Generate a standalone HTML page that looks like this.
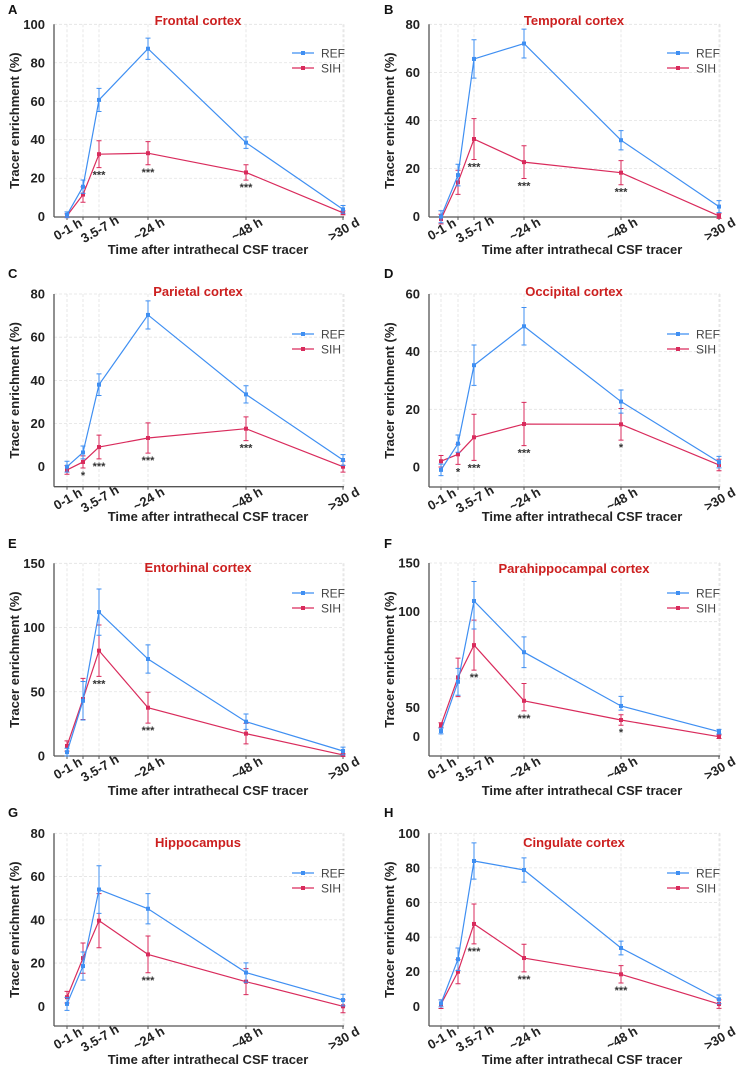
<!DOCTYPE html>
<html><head><meta charset="utf-8">
<style>
body{margin:0;background:#fff;}
svg{display:block;font-family:"Liberation Sans",Arial,sans-serif;}
</style></head>
<body>
<svg id="chart" width="744" height="1074" viewBox="0 0 744 1074" xmlns="http://www.w3.org/2000/svg"></svg>
<script>
const categories = ["0-1 h", "", "3.5-7 h", "~24 h", "~48 h", ">30 d"];
const seriesNames = ["REF", "SIH"];
const panelTitles = ["Frontal cortex","Temporal cortex","Parietal cortex","Occipital cortex","Entorhinal cortex","Parahippocampal cortex","Hippocampus","Cingulate cortex"];
const panelLetters = ["A","B","C","D","E","F","G","H"];

const refA = [1, 15.6, 60.7, 87.3, 38.5, 3.8];
const refErrA = [1.5, 3.5, 6, 5.5, 3, 2];
const sihA = [0.5, 11.5, 32.5, 33, 23, 2];
const sihErrA = [1, 4, 7, 6, 4, 1];
const starsA = ["", "", "***", "***", "***", ""];

const refB = [0, 17.3, 65.6, 72, 31.8, 4.2];
const refErrB = [2.5, 4.5, 8, 6, 4, 2.5];
const sihB = [-1, 14.3, 32.3, 22.7, 18.3, 0.3];
const sihErrB = [2, 5, 8.5, 6.8, 5, 1];
const starsB = ["", "", "***", "***", "***", ""];

const refC = [0, 6.6, 38, 70.3, 33.5, 3.1];
const refErrC = [2.5, 3, 5, 6.5, 4, 2.5];
const sihC = [-1.5, 2.2, 9.1, 13.3, 17.6, 0];
const sihErrC = [2, 2.8, 5.5, 7, 5.5, 2.5];
const starsC = ["", "*", "***", "***", "***", ""];

const refD = [-1, 8.1, 35.3, 48.8, 22.7, 1.7];
const refErrD = [2, 3, 7, 6.5, 4, 2];
const sihD = [2, 4.4, 10.3, 14.9, 14.8, 0.7];
const sihErrD = [2, 3.5, 8, 7.5, 5.5, 2];
const starsD = ["", "*", "***", "***", "*", ""];

const refE = [3, 43, 112, 75.5, 26.7, 3.9];
const refErrE = [3, 15, 18, 11, 6, 3];
const sihE = [7.8, 44.4, 82, 37.6, 17.4, 0.8];
const sihErrE = [4, 16, 20, 12, 8, 1];
const starsE = ["", "", "***", "***", "", ""];

const refF = [9.8, 63.5, 111, 78.9, 50.9, 8.6];
const refErrF = [5, 7, 20, 8, 5, 4];
const sihF = [20, 65.8, 82.6, 53.6, 28.8, 0];
const sihErrF = [4, 10, 13, 9, 9, 3];
const starsF = ["", "", "**", "***", "*", ""];

const refG = [1.1, 18.6, 54, 45.1, 15.6, 2.9];
const refErrG = [3, 6.5, 11, 7, 4.5, 2.7];
const sihG = [4.2, 22.3, 39.6, 24, 11.4, 0];
const sihErrG = [2.7, 7, 12.5, 8.5, 6, 3];
const starsG = ["", "", "", "***", "", ""];

const refH = [1.7, 27.2, 84, 78.8, 33.7, 4];
const refErrH = [2, 6.5, 10.5, 7, 4, 2.5];
const sihH = [1.2, 20, 47.6, 27.9, 18.5, 1.3];
const sihErrH = [2.5, 7, 11.5, 8, 5, 2.5];
const starsH = ["", "", "***", "***", "***", ""];

const yTicksA = [0,20,40,60,80,100];
const yTicksB = [0,20,40,60,80];
const yTicksC = [0,20,40,60,80];
const yTicksD = [0,20,40,60];
const yTicksE = [0,50,100,150];
const yTicksF = [0,50,100,150];
const yTicksG = [0,20,40,60,80];
const yTicksH = [0,20,40,60,80,100];

const allRef=[refA,refB,refC,refD,refE,refF,refG,refH];
const allRefErr=[refErrA,refErrB,refErrC,refErrD,refErrE,refErrF,refErrG,refErrH];
const allSih=[sihA,sihB,sihC,sihD,sihE,sihF,sihG,sihH];
const allSihErr=[sihErrA,sihErrB,sihErrC,sihErrD,sihErrE,sihErrF,sihErrG,sihErrH];
const allStars=[starsA,starsB,starsC,starsD,starsE,starsF,starsG,starsH];
const allTicks=[yTicksA,yTicksB,yTicksC,yTicksD,yTicksE,yTicksF,yTicksG,yTicksH];

const L = {x0:54, xs:[67,83,99,148,246,343], right:344};
const R = {x0:429, xs:[441,458,474,524,621,719], right:720};
const layouts = [
 {col:L, top:24.3, zero:216.7, max:100, bottom:217, letterY:14, titleY:25, legY:53, xTitleY:254},
 {col:R, top:24.3, zero:216.7, max:80, bottom:217, letterY:14, titleY:25, legY:53, xTitleY:254},
 {col:L, top:294, zero:466.7, max:80, bottom:486.7, letterY:278, titleY:296, legY:334, xTitleY:521},
 {col:R, top:294, zero:467, max:60, bottom:487, letterY:278, titleY:296, legY:334, xTitleY:521},
 {col:L, top:563.3, zero:756, max:150, bottom:756, letterY:548, titleY:572, legY:593, xTitleY:795},
 {col:R, top:563, zero:736.7, max:150, bottom:756, letterY:548, titleY:573, legY:593, xTitleY:795, piece:[[0,736.7],[50,707.7],[100,611.7],[150,563]], grid:[65,94.8,150]},
 {col:L, top:833.3, zero:1006.3, max:80, bottom:1026, letterY:817, titleY:847, legY:873, xTitleY:1064},
 {col:R, top:833.3, zero:1006.3, max:100, bottom:1026, letterY:817, titleY:847, legY:873, xTitleY:1064}
];
const COLORS = ["#3f8ff2", "#d92b5c"];
const svg = document.getElementById('chart');
const NS = "http://www.w3.org/2000/svg";
function mk(tag, attrs, parent){
  const e=document.createElementNS(NS,tag);
  for(const k in attrs) e.setAttribute(k, attrs[k]);
  (parent||svg).appendChild(e); return e;
}
function makeY(lay){
  if(lay.piece){
    const p=lay.piece;
    return v=>{
      for(let i=0;i<p.length-1;i++){
        if(v<=p[i+1][0]||i===p.length-2){
          const t=(v-p[i][0])/(p[i+1][0]-p[i][0]);
          return p[i][1]+t*(p[i+1][1]-p[i][1]);
        }
      }
    };
  }
  const s=(lay.zero-lay.top)/lay.max;
  return v=>lay.zero - v*s;
}

layouts.forEach((lay,pi)=>{
  const g=mk('g',{});
  
  
  const col=lay.col, y=makeY(lay), xs=col.xs, x0=col.x0;
  const xOf=i=>xs[i];
  const lt=mk('text',{x:col===L?8:384,y:lay.letterY,'font-size':13,'font-weight':'bold',fill:'#111'},g);
  lt.textContent=panelLetters[pi];
  
  
  const gridVals = lay.grid || allTicks[pi].filter(v=>v>0);
  gridVals.forEach(v=>{
    const gl=mk('line',{x1:x0,x2:col.right,y1:y(v),y2:y(v),stroke:'#e2e2e2','stroke-dasharray':'3,2','stroke-width':0.8},g);
    
    
  });
  xs.concat([col.right]).forEach(xx=>{
    const vl=mk('line',{x1:xx,x2:xx,y1:lay.top,y2:lay.bottom,stroke:'#e2e2e2','stroke-dasharray':'3,2','stroke-width':0.8},g);
    
    
  });
  const ya=mk('line',{x1:x0,x2:x0,y1:lay.top,y2:lay.bottom,stroke:'#555','stroke-width':1.3},g);
  
  
  const xa=mk('line',{x1:x0,x2:col.right,y1:lay.bottom,y2:lay.bottom,stroke:'#555','stroke-width':1.3},g);
  
  
  allTicks[pi].forEach(v=>{
    const t=mk('text',{x:x0-9,y:y(v)+4.5,'text-anchor':'end','font-size':13,'font-weight':'bold',fill:'#222'},g);
    t.textContent=v;
    
    
  });
  categories.forEach((c,i)=>{
    const tm=mk('line',{x1:xOf(i),x2:xOf(i),y1:lay.bottom,y2:lay.bottom+3,stroke:'#555','stroke-width':1},g);
    
    
    if(!c) return;
    const tx=xOf(i)+3, ty=lay.bottom+16;
    const t=mk('text',{x:tx,y:ty,'text-anchor':'middle','font-size':13,'font-weight':'bold',fill:'#222',transform:`rotate(-30 ${tx} ${ty})`},g);
    t.textContent=c;
    
    
  });
  const cy=(lay.top+lay.bottom)/2, yx=col===L?19:394;
  const yt=mk('text',{x:yx,y:cy,'text-anchor':'middle','font-size':13,'font-weight':'bold',fill:'#222',transform:`rotate(-90 ${yx} ${cy})`},g);
  yt.textContent="Tracer enrichment (%)";
  
  
  const xt=mk('text',{x:col===L?208:582,y:lay.xTitleY,'text-anchor':'middle','font-size':13,'font-weight':'bold',fill:'#222'},g);
  xt.textContent="Time after intrathecal CSF tracer";
  
  
  const tt=mk('text',{x:col===L?198:574,y:lay.titleY,'text-anchor':'middle','font-size':13,'font-weight':'bold',fill:'#cc1f1f'},g);
  tt.textContent=panelTitles[pi];
  
  
  const vals=[allRef[pi],allSih[pi]], errs=[allRefErr[pi],allSihErr[pi]];
  [1,0].forEach(si=>{
    const sg=mk('g',{},g);
    
    
    const pts=vals[si].map((v,i)=>xOf(i)+','+y(v)).join(' ');
    const pl=mk('polyline',{points:pts,fill:'none',stroke:COLORS[si],'stroke-width':1.2},sg);
    
    
    vals[si].forEach((v,i)=>{
      const e=errs[si][i], xx=xOf(i);
      const eb=mk('path',{d:`M${xx},${y(v+e)}V${y(v-e)}M${xx-2.5},${y(v+e)}H${xx+2.5}M${xx-2.5},${y(v-e)}H${xx+2.5}`,stroke:COLORS[si],'stroke-width':1,fill:'none'},sg);
      
      
      const m=mk('rect',{x:xx-2,y:y(v)-2,width:4,height:4,fill:COLORS[si]},sg);
      
      
    });
  });
  allStars[pi].forEach((s,i)=>{
    if(!s) return;
    const v=allSih[pi][i]-allSihErr[pi][i];
    const st=mk('text',{x:xOf(i),y:y(v)+11,'text-anchor':'middle','font-size':11,'font-weight':'bold',fill:'#333'},g);
    st.textContent=s;
    
    
  });
  const lx=col===L?292:667;
  seriesNames.forEach((n,si)=>{
    const ly=lay.legY+si*15;
    const lg=mk('g',{},g);
    
    
    mk('line',{x1:lx,x2:lx+22,y1:ly,y2:ly,stroke:COLORS[si],'stroke-width':1.2},lg);
    mk('rect',{x:lx+9,y:ly-2,width:4,height:4,fill:COLORS[si]},lg);
    const t=mk('text',{x:lx+29,y:ly+4.5,'font-size':12,fill:'#444'},lg);
    t.textContent=n;
  });
});
</script>
</body></html>
